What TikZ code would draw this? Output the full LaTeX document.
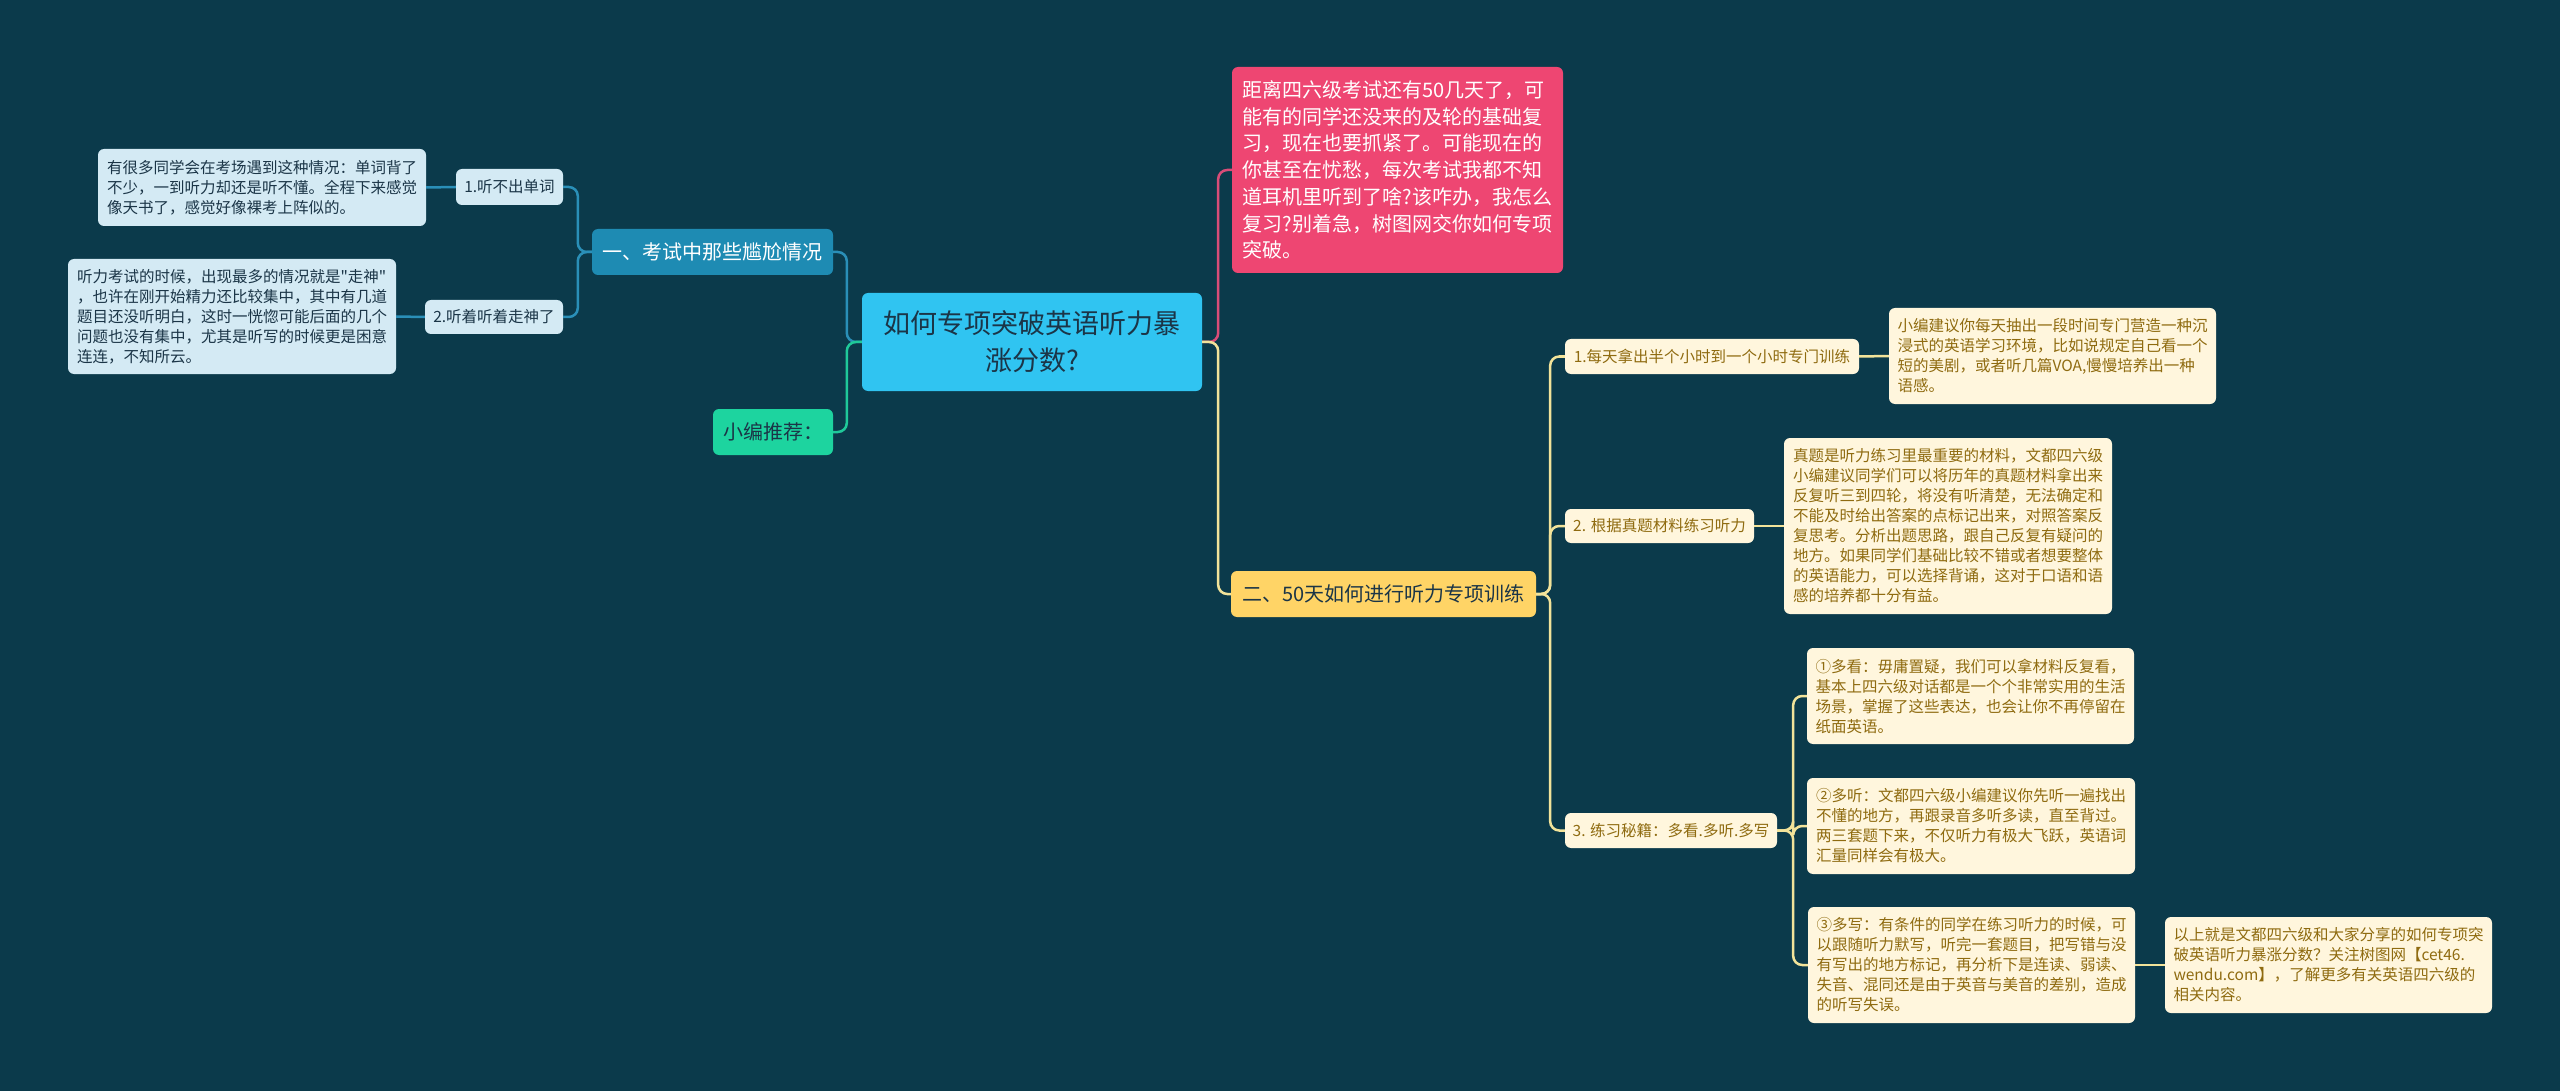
\documentclass[tikz,border=0pt]{standalone}
\usepackage{fontspec}
\setmainfont{Noto Sans CJK SC}
\newfontfamily\plainquote{Noto Sans CJK SC}

\definecolor{bgteal}{HTML}{0B3A4B}
\definecolor{rootblue}{HTML}{30C4F1}
\definecolor{branchblue}{HTML}{1E8BB3}
\definecolor{tipgreen}{HTML}{1DD49F}
\definecolor{intropink}{HTML}{EE4672}
\definecolor{branchgold}{HTML}{FFD466}
\definecolor{leafcream}{HTML}{FFF6DD}
\definecolor{leafblue}{HTML}{D4EAF4}
\definecolor{leaftext}{HTML}{8F6B10}
\definecolor{darktext}{HTML}{1B3547}
\definecolor{lineblue}{HTML}{2A8FB8}
\definecolor{linegreen}{HTML}{1FC99A}
\definecolor{linepink}{HTML}{D94C78}
\definecolor{lineyellow}{HTML}{F2E39A}

\begin{document}
\begin{tikzpicture}[x=1pt,y=-1pt,
 every node/.style={inner sep=0pt,rounded corners=6pt},
 rootbox/.style={fill=rootblue,text=darktext,align=center,
   font=\fontsize{27}{37}\selectfont},
 branch/.style={text=white,align=center,font=\fontsize{20}{26}\selectfont},
 coolleaf/.style={fill=leafblue,text=darktext,align=left,
   font=\fontsize{15.5}{20}\selectfont},
 warmleaf/.style={fill=leafcream,text=leaftext,align=left,
   font=\fontsize{15.5}{20}\selectfont},
 conn/.style={line width=2.5pt,rounded corners=9pt}
]
 \fill[bgteal] (0,0) rectangle (2560,1091);
 \useasboundingbox (0,0) rectangle (2560,1091);

 % centre
 \node[rootbox,minimum width=340,minimum height=98] (root) at (1032,342)
   {如何专项突破英语听力暴\\涨分数?};

 % left side
 \node[branch,fill=branchblue,minimum width=241,minimum height=46] (exam) at (712.5,252)
   {一、考试中那些尴尬情况};
 \node[branch,fill=tipgreen,text=darktext,minimum width=120,minimum height=46] (tip) at (773,432)
   {小编推荐：};
 \node[coolleaf,minimum width=107,minimum height=36] (words) at (509.5,187)
   {1.听不出单词};
 \node[coolleaf,minimum width=138,minimum height=34] (wander) at (494,317)
   {2.听着听着走神了};
 \node[coolleaf,minimum width=328,minimum height=77] (wordsnote) at (262,187.5)
   {有很多同学会在考场遇到这种情况：单词背了\\
    不少，一到听力却还是听不懂。全程下来感觉\\
    像天书了，感觉好像裸考上阵似的。};
 \node[coolleaf,minimum width=328,minimum height=115] (wandernote) at (232,316.5)
   {听力考试的时候，出现最多的情况就是{\plainquote"}走神{\plainquote"}\\
    ，也许在刚开始精力还比较集中，其中有几道\\
    题目还没听明白，这时一恍惚可能后面的几个\\
    问题也没有集中，尤其是听写的时候更是困意\\
    连连，不知所云。};

 % right side
 \node[branch,fill=intropink,align=left,font=\fontsize{20}{26.7}\selectfont,
   minimum width=331,minimum height=206] (intro) at (1397.5,170)
   {距离四六级考试还有50几天了，可\\
    能有的同学还没来的及轮的基础复\\
    习，现在也要抓紧了。可能现在的\\
    你甚至在忧愁，每次考试我都不知\\
    道耳机里听到了啥?该咋办，我怎么\\
    复习?别着急，树图网交你如何专项\\
    突破。};
 \node[branch,fill=branchgold,text=darktext,minimum width=305,minimum height=46] (plan) at (1383.5,594)
   {二、50天如何进行听力专项训练};
 \node[warmleaf,minimum width=294,minimum height=35] (daily) at (1712,356.5)
   {1.每天拿出半个小时到一个小时专门训练};
 \node[warmleaf,minimum width=327,minimum height=96] (dailynote) at (2052.5,356)
   {小编建议你每天抽出一段时间专门营造一种沉\\
    浸式的英语学习环境，比如说规定自己看一个\\
    短的美剧，或者听几篇VOA,慢慢培养出一种\\
    语感。};
 \node[warmleaf,minimum width=189,minimum height=34] (real) at (1659.5,526)
   {2. 根据真题材料练习听力};
 \node[warmleaf,minimum width=328,minimum height=176] (realnote) at (1948,526)
   {真题是听力练习里最重要的材料，文都四六级\\
    小编建议同学们可以将历年的真题材料拿出来\\
    反复听三到四轮，将没有听清楚，无法确定和\\
    不能及时给出答案的点标记出来，对照答案反\\
    复思考。分析出题思路，跟自己反复有疑问的\\
    地方。如果同学们基础比较不错或者想要整体\\
    的英语能力，可以选择背诵，这对于口语和语\\
    感的培养都十分有益。};
 \node[warmleaf,minimum width=212,minimum height=35] (secret) at (1671,830.5)
   {3. 练习秘籍：多看.多听.多写};
 \node[warmleaf,minimum width=327,minimum height=96] (look) at (1970.5,696)
   {①多看：毋庸置疑，我们可以拿材料反复看，\\
    基本上四六级对话都是一个个非常实用的生活\\
    场景，掌握了这些表达，也会让你不再停留在\\
    纸面英语。};
 \node[warmleaf,minimum width=328,minimum height=96] (listen) at (1971,826)
   {②多听：文都四六级小编建议你先听一遍找出\\
    不懂的地方，再跟录音多听多读，直至背过。\\
    两三套题下来，不仅听力有极大飞跃，英语词\\
    汇量同样会有极大。};
 \node[warmleaf,minimum width=327,minimum height=116] (write) at (1971.5,965)
   {③多写：有条件的同学在练习听力的时候，可\\
    以跟随听力默写，听完一套题目，把写错与没\\
    有写出的地方标记，再分析下是连读、弱读、\\
    失音、混同还是由于英音与美音的差别，造成\\
    的听写失误。};
 \node[warmleaf,minimum width=327,minimum height=96] (closing) at (2328.5,965)
   {以上就是文都四六级和大家分享的如何专项突\\
    破英语听力暴涨分数？关注树图网【cet46.\\
    wendu.com】，了解更多有关英语四六级的\\
    相关内容。};

 % connectors
 \draw[conn,lineblue] (root.west) -- ++(-15,0) |- (exam.east);
 \draw[conn,linegreen] (root.west) -- ++(-15,0) |- (tip.east);
 \draw[conn,lineblue] (exam.west) -- ++(-14,0) |- (words.east);
 \draw[conn,lineblue] (exam.west) -- ++(-14,0) |- (wander.east);
 \draw[conn,lineblue] (words.west) -- (wordsnote.east);
 \draw[conn,lineblue] (wander.west) -- (wandernote.east);
 \draw[conn,linepink] (root.east) -- ++(16,0) |- (intro.west);
 \draw[conn,lineyellow] (root.east) -- ++(16,0) |- (plan.west);
 \draw[conn,lineyellow] (plan.east) -- ++(14,0) |- (daily.west);
 \draw[conn,lineyellow] (plan.east) -- ++(14,0) |- (real.west);
 \draw[conn,lineyellow] (plan.east) -- ++(14,0) |- (secret.west);
 \draw[conn,lineyellow] (daily.east) -- (dailynote.west);
 \draw[conn,lineyellow] (real.east) -- (realnote.west);
 \draw[conn,lineyellow] (secret.east) -- ++(16,0) |- (look.west);
 \draw[conn,lineyellow] (secret.east) -- ++(16,0) |- (listen.west);
 \draw[conn,lineyellow] (secret.east) -- ++(16,0) |- (write.west);
 \draw[conn,lineyellow] (write.east) -- (closing.west);
\end{tikzpicture}
\end{document}
